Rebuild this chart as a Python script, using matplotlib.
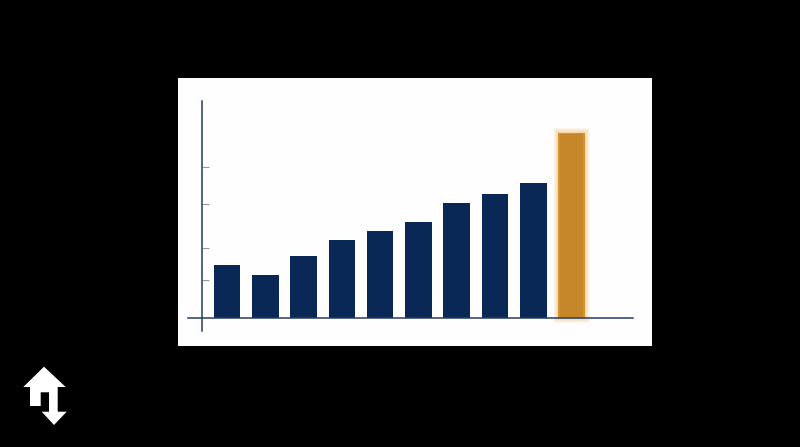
import numpy as np
import matplotlib
matplotlib.use('Agg')
import matplotlib.pyplot as plt
from matplotlib.patches import Polygon

W, H = 800, 447

# bar heights, no labels in the picture so the unit is arbitrary
values = [52.7, 43.3, 61.7, 78, 87.3, 96.3, 114.7, 124.3, 135.3]
highlight = 185.3
tick_values = [38, 70.3, 114, 150.7]

# icon outline, read in pixels
icon_x = [44, 65.7, 57.7, 57.7, 66.7, 54, 41.7, 49, 49, 40.7, 40.7, 30, 30, 23.3]
icon_y = [366.7, 387, 387, 411.7, 411.7, 425, 411.7, 411.7, 392.3, 392.3, 406, 406, 387, 387]

navy = '#0a2855'
orange = '#c98a2a'
line_col = '#263c5c'

fig = plt.figure(figsize=(W / 100, H / 100), dpi=100, facecolor='black')

# white panel
ax = fig.add_axes([178 / W, 1 - 345.5 / H, 474 / W, 268 / H], facecolor='#fefefe')
ax.set_xlim(-1.279, 11.097)
ax.set_ylim(-27.5, 240.5)

xs = np.arange(len(values))
ax.bar(xs, values, width=0.695, color=navy, zorder=3)

# orange bar with a soft glow round it, thin layers with snapping off so it fades
hx = len(values)
for px in np.arange(5, 0, -0.5):
    glow = ax.bar(hx, highlight + 2 * px, width=0.695 + 2 * px / 38.3, bottom=-px,
                  color='#f7b54a', alpha=0.045 + 0.006 * (5 - px), linewidth=0, zorder=2)
    for r in glow:
        r.set_snap(False)
ax.bar(hx, highlight, width=0.695, color='#d2932f', zorder=3)
ax.bar(hx, highlight - 3, width=0.6, bottom=1.5, color='#c6872a', linewidth=0, zorder=3)

# axes lines
for s in ['top', 'right']:
    ax.spines[s].set_visible(False)
ax.spines['left'].set_position(('data', -0.653))
ax.spines['left'].set_bounds(-13, 217)
ax.spines['bottom'].set_position(('data', 0))
ax.spines['bottom'].set_bounds(-1.018, 10.6)
ax.spines['left'].set_color(line_col)
ax.spines['bottom'].set_color(line_col)
ax.spines['left'].set_linewidth(1.1)
ax.spines['bottom'].set_linewidth(1.1)
ax.spines['bottom'].set_zorder(4)

ax.set_xticks([])
ax.set_yticks(tick_values)
ax.set_yticklabels([])
ax.tick_params(axis='y', direction='in', length=5, width=0.8, color='#9a9a9a')

# logo bottom left
overlay = fig.add_axes([0, 0, 1, 1], facecolor='none')
overlay.set_xlim(0, W)
overlay.set_ylim(H, 0)
overlay.axis('off')
overlay.add_patch(Polygon(np.column_stack([icon_x, icon_y]), closed=True, color='white', linewidth=0))

fig.savefig('out.png', dpi=100, facecolor='black')
